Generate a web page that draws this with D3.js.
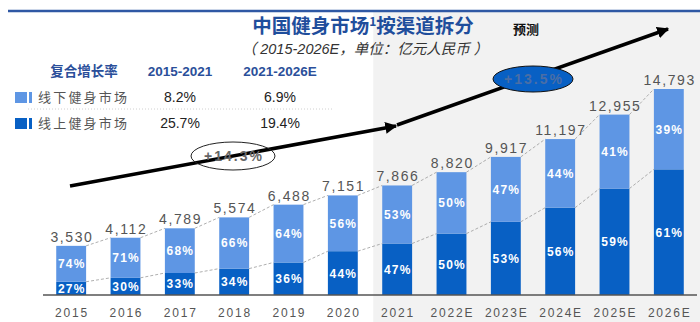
<!DOCTYPE html>
<html>
<head>
<meta charset="utf-8">
<script src="https://cdn.jsdelivr.net/npm/d3@7"></script>
<style>
  body { margin: 0; background: #fff; }
  svg { display: block; font-family: "Liberation Sans", Arial, "Noto Sans CJK SC", sans-serif; }
  .cjk { font-family: "Noto Sans CJK SC", "Liberation Sans", sans-serif; }
</style>
</head>
<body>
<div id="chart"></div>
<script>
const WIDTH  = 700;
const HEIGHT = 322;

const BASELINE_Y = 295;
const TOP_Y      = 89;
const BAR_LEFT   = 44;
const BAR_RIGHT  = 696;

const LIGHT_BLUE = "#5e96e4";
const DARK_BLUE  = "#0860c4";
const TEXT_GRAY  = "#555";

// data
const years        = ["2015", "2016", "2017", "2018", "2019", "2020", "2021",
                      "2022E", "2023E", "2024E", "2025E", "2026E"];
const totals       = [3530, 4112, 4789, 5574, 6488, 7151, 7866, 8820, 9917, 11197, 12955, 14793];
const onlineShare  = [27, 30, 33, 34, 36, 44, 47, 50, 53, 56, 59, 61];
const offlineShare = [74, 71, 68, 66, 64, 56, 53, 50, 47, 44, 41, 39];

const cagrPeriods  = ["2015-2021", "2021-2026E"];
const seriesNames  = ["线下健身市场", "线上健身市场"];
const offlineCagr  = ["8.2%", "6.9%"];
const onlineCagr   = ["25.7%", "19.4%"];
const cagrHistory  = "+14.3%";
const cagrForecast = "+13.5%";

var svg = d3.select("#chart")
            .append("svg")
            .attr("width", WIDTH)
            .attr("height", HEIGHT);

var xScale = d3.scaleBand()
               .domain(years)
               .range([BAR_LEFT, BAR_RIGHT])
               .paddingInner(0.45)
               .paddingOuter(0.225);

var yScale = d3.scaleLinear()
               .domain([0, d3.max(totals)])
               .range([BASELINE_Y, TOP_Y]);

var bw = xScale.bandwidth();

// forecast shading
var shadeX = xScale("2021") - 9;
svg.append("rect")
   .attr("x", shadeX).attr("y", 12)
   .attr("width", WIDTH - shadeX).attr("height", HEIGHT - 12)
   .attr("fill", "#f2f2f2");

// top rule
svg.append("line")
   .attr("x1", 8).attr("x2", WIDTH)
   .attr("y1", 11).attr("y2", 11)
   .attr("stroke", "#2f58a4")
   .attr("stroke-width", 2.5);

// title
var title = svg.append("text")
   .attr("class", "cjk")
   .attr("x", 363).attr("y", 33)
   .attr("text-anchor", "middle")
   .attr("font-size", 19.5)
   .attr("font-weight", "bold")
   .attr("fill", "#1f4e9c");
title.append("tspan").text("中国健身市场");
title.append("tspan").attr("font-size", 12).attr("dy", -7).text("1");
title.append("tspan").attr("dy", 7).text("按渠道拆分");

svg.append("text")
   .attr("x", 365).attr("y", 54)
   .attr("text-anchor", "middle")
   .attr("font-size", 14.5)
   .attr("font-style", "italic")
   .attr("fill", "#333")
   .text("（ 2015-2026E，单位：亿元人民币 ）");

svg.append("text")
   .attr("class", "cjk")
   .attr("x", 513).attr("y", 34)
   .attr("font-size", 13)
   .attr("font-weight", "bold")
   .attr("fill", "#111")
   .text("预测");

// CAGR table
svg.append("text")
   .attr("class", "cjk")
   .attr("x", 84).attr("y", 76)
   .attr("text-anchor", "middle")
   .attr("font-size", 13.5)
   .attr("font-weight", "bold")
   .attr("fill", "#2b4f9a")
   .text("复合增长率");

var colX = [180, 280];
cagrPeriods.forEach(function(p, i) {
    svg.append("text")
       .attr("x", colX[i]).attr("y", 76)
       .attr("text-anchor", "middle")
       .attr("font-size", 13.5)
       .attr("font-weight", "bold")
       .attr("fill", "#2b4f9a")
       .text(p);
});

var rowY = [97, 123];
var rowColors = [LIGHT_BLUE, DARK_BLUE];
var rowValues = [offlineCagr, onlineCagr];
for (r = 0; r < 2; r++) {
    svg.append("rect")
       .attr("x", 15).attr("y", rowY[r] - 5)
       .attr("width", 12).attr("height", 11)
       .attr("fill", rowColors[r]);
    svg.append("rect")
       .attr("x", 29).attr("y", rowY[r] - 5)
       .attr("width", 3).attr("height", 11)
       .attr("fill", rowColors[r]);
    svg.append("text")
       .attr("class", "cjk")
       .attr("x", 38).attr("y", rowY[r] + 5)
       .attr("font-size", 13)
       .attr("letter-spacing", 2.2)
       .attr("fill", TEXT_GRAY)
       .text(seriesNames[r]);
    for (c = 0; c < 2; c++) {
        svg.append("text")
           .attr("x", colX[c]).attr("y", rowY[r] + 5)
           .attr("text-anchor", "middle")
           .attr("font-size", 14)
           .attr("fill", "#222")
           .text(rowValues[r][c]);
    }
}
svg.append("line")
   .attr("x1", 28).attr("x2", 332)
   .attr("y1", 109).attr("y2", 109)
   .attr("stroke", "#d0d0d0")
   .attr("stroke-dasharray", "1,2");

// bars
var bars = years.map(function(y, i) {
    return { year: y, total: totals[i], online: totals[i] * onlineShare[i] / 100,
             on: onlineShare[i], off: offlineShare[i] };
});

svg.selectAll("rect.online")
   .data(bars).enter()
   .append("rect")
   .attr("class", "online")
   .attr("x", d => xScale(d.year))
   .attr("y", d => yScale(d.online))
   .attr("width", bw)
   .attr("height", d => BASELINE_Y - yScale(d.online))
   .attr("fill", DARK_BLUE);

svg.selectAll("rect.offline")
   .data(bars).enter()
   .append("rect")
   .attr("class", "offline")
   .attr("x", d => xScale(d.year))
   .attr("y", d => yScale(d.total))
   .attr("width", bw)
   .attr("height", d => yScale(d.online) - yScale(d.total))
   .attr("fill", LIGHT_BLUE);

// dashed connectors
for (i = 0; i < bars.length - 1; i++) {
    var a = bars[i], b = bars[i + 1];
    ["total", "online"].forEach(function(k) {
        svg.append("line")
           .attr("x1", xScale(a.year) + bw).attr("y1", yScale(a[k]))
           .attr("x2", xScale(b.year)).attr("y2", yScale(b[k]))
           .attr("stroke", "#9a9a9a")
           .attr("stroke-width", 0.8)
           .attr("stroke-dasharray", "3,2");
    });
}

// axis
svg.append("line")
   .attr("x1", 43).attr("x2", 697)
   .attr("y1", BASELINE_Y).attr("y2", BASELINE_Y)
   .attr("stroke", "#555")
   .attr("stroke-width", 1.5);

var xAxis = svg.append("g")
   .attr("transform", "translate(0," + BASELINE_Y + ")")
   .call(d3.axisBottom(xScale).tickSize(0).tickPadding(13));
xAxis.select(".domain").remove();
xAxis.selectAll("text")
     .attr("font-size", 12)
     .attr("font-family", "Liberation Sans, Arial, sans-serif")
     .attr("letter-spacing", 1.8)
     .attr("dx", 0.9)
     .attr("fill", TEXT_GRAY);

// total labels
svg.selectAll("text.total")
   .data(bars).enter()
   .append("text")
   .attr("class", "total")
   .attr("x", d => xScale(d.year) + bw / 2 + 0.8)
   .attr("y", d => yScale(d.total) - 4)
   .attr("text-anchor", "middle")
   .attr("font-size", 14)
   .attr("letter-spacing", 1.6)
   .attr("fill", TEXT_GRAY)
   .text(d => d3.format(",")(d.total));

// share labels
svg.selectAll("text.on")
   .data(bars).enter()
   .append("text")
   .attr("x", d => xScale(d.year) + bw / 2 + 0.6)
   .attr("y", d => Math.min((BASELINE_Y + yScale(d.online)) / 2 + 4.5, BASELINE_Y - 2))
   .attr("text-anchor", "middle")
   .attr("font-size", 12)
   .attr("font-weight", "bold")
   .attr("letter-spacing", 1.2)
   .attr("fill", "#fff")
   .text(d => d.on + "%");

svg.selectAll("text.off")
   .data(bars).enter()
   .append("text")
   .attr("x", d => xScale(d.year) + bw / 2 + 0.6)
   .attr("y", d => (yScale(d.online) + yScale(d.total)) / 2 + 4.5)
   .attr("text-anchor", "middle")
   .attr("font-size", 12)
   .attr("font-weight", "bold")
   .attr("letter-spacing", 1.2)
   .attr("fill", "#fff")
   .text(d => d.off + "%");

// growth arrows
svg.append("defs").append("marker")
   .attr("id", "head")
   .attr("viewBox", "0 0 10 10")
   .attr("refX", 9).attr("refY", 5)
   .attr("markerWidth", 3.4).attr("markerHeight", 3.4)
   .attr("orient", "auto")
   .append("path")
   .attr("d", "M0,0 L10,5 L0,10 Z")
   .attr("fill", "#000");

var arrows = [[[70, 186], [396, 126]], [[397, 125], [668, 29]]];
arrows.forEach(function(seg) {
    svg.append("line")
       .attr("x1", seg[0][0]).attr("y1", seg[0][1])
       .attr("x2", seg[1][0]).attr("y2", seg[1][1])
       .attr("stroke", "#000")
       .attr("stroke-width", 3.5)
       .attr("marker-end", "url(#head)");
});

svg.append("ellipse")
   .attr("cx", 233).attr("cy", 156)
   .attr("rx", 42).attr("ry", 14)
   .attr("fill", "none")
   .attr("stroke", "#222")
   .attr("stroke-width", 1);
svg.append("text")
   .attr("x", 234).attr("y", 161)
   .attr("text-anchor", "middle")
   .attr("font-size", 14)
   .attr("font-weight", "bold")
   .attr("letter-spacing", 2)
   .attr("fill", "#666")
   .text(cagrHistory);

svg.append("ellipse")
   .attr("cx", 533).attr("cy", 79)
   .attr("rx", 40).attr("ry", 13)
   .attr("fill", DARK_BLUE)
   .attr("stroke", "#111")
   .attr("stroke-width", 1);
svg.append("text")
   .attr("x", 534).attr("y", 84)
   .attr("text-anchor", "middle")
   .attr("font-size", 14)
   .attr("font-weight", "bold")
   .attr("letter-spacing", 2)
   .attr("fill", "#4a6ea6")
   .text(cagrForecast);
</script>
</body>
</html>
